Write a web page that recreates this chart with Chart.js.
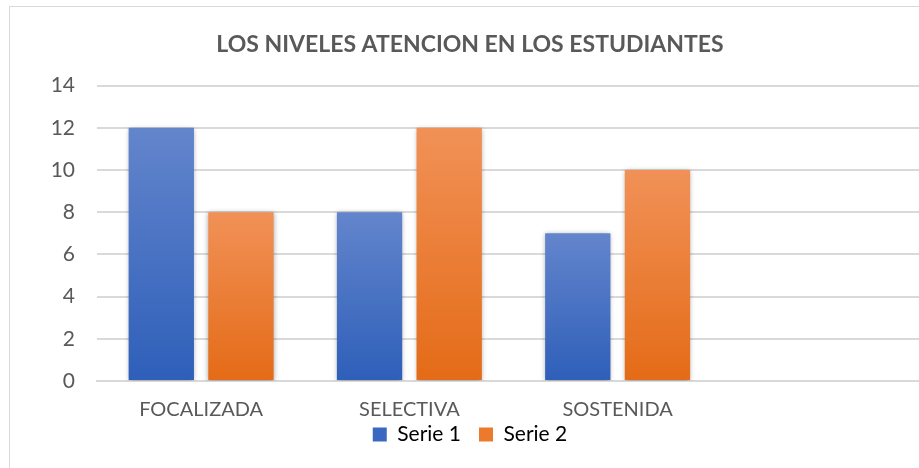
<!DOCTYPE html>
<html lang="es">
<head>
    <meta charset="UTF-8">
    <title>Los niveles atencion en los estudiantes</title>
    <script src="https://cdn.jsdelivr.net/npm/chart.js"></script>
    <style>
        html, body {
            margin: 0;
            padding: 0;
            overflow: hidden;
            background: #fff;
        }
        #chartBox {
            position: absolute;
            left: 9px;
            top: 6px;
            width: 920px;
            height: 470px;
            border: 1px solid #d9d9d9;
            background: #fff;
        }
    </style>
</head>
<body>
    <div id="chartBox">
        <canvas id="nivelesChart" width="920" height="463"></canvas>
    </div>

    <script>
        // datos del grafico
        const categorias = ['FOCALIZADA', 'SELECTIVA', 'SOSTENIDA', ''];
        const serie1 = [12, 8, 7, null];
        const serie2 = [8, 12, 10, null];
        const ticksY = [0, 2, 4, 6, 8, 10, 12, 14];

        const textColor = '#595959';
        const fontName = 'Lato, "Open Sans", sans-serif';

        // gradiente por barra, de claro arriba a oscuro abajo
        function barGradient(context, topColor, bottomColor) {
            const chart = context.chart;
            if (!chart.chartArea || context.parsed == null) return bottomColor;
            const yScale = chart.scales.y;
            const yTop = yScale.getPixelForValue(context.parsed.y);
            const yBase = yScale.getPixelForValue(0);
            if (!isFinite(yTop) || yTop === yBase) return bottomColor;
            const g = chart.ctx.createLinearGradient(0, yTop, 0, yBase);
            g.addColorStop(0, topColor);
            g.addColorStop(1, bottomColor);
            return g;
        }

        // sombra suave detras de las barras
        const barShadow = {
            id: 'barShadow',
            beforeDatasetsDraw(chart) {
                const ctx = chart.ctx;
                ctx.save();
                ctx.shadowColor = 'rgba(0, 0, 0, 0.35)';
                ctx.shadowBlur = 5;
                ctx.shadowOffsetX = 0;
                ctx.shadowOffsetY = 1;
            },
            afterDatasetsDraw(chart) {
                chart.ctx.restore();
            }
        };

        // sube un poco la leyenda, pegada a las etiquetas del eje x
        const legendNudge = {
            id: 'legendNudge',
            afterLayout(chart) {
                const lg = chart.legend;
                if (!lg) return;
                lg.top -= 15;
                lg.bottom -= 15;
            }
        };

        const ctx = document.getElementById('nivelesChart').getContext('2d');
        new Chart(ctx, {
            type: 'bar',
            data: {
                labels: categorias,
                datasets: [{
                    label: 'Serie 1',
                    data: serie1,
                    backgroundColor: c => barGradient(c, '#6385cc', '#2e5fb9'),
                    borderWidth: 0
                }, {
                    label: 'Serie 2',
                    data: serie2,
                    backgroundColor: c => barGradient(c, '#f19157', '#e46b17'),
                    borderWidth: 0
                }]
            },
            options: {
                responsive: false,
                animation: false,
                categoryPercentage: 0.765,
                barPercentage: 0.82,
                layout: {
                    padding: { left: 0, right: 0, top: 0, bottom: 0 }
                },
                plugins: {
                    title: {
                        display: true,
                        text: 'LOS NIVELES ATENCION EN LOS ESTUDIANTES',
                        color: textColor,
                        font: { family: fontName, size: 23, weight: 'bold' },
                        padding: { top: 24, bottom: 27 }
                    },
                    legend: {
                        position: 'bottom',
                        labels: {
                            color: textColor,
                            font: { family: fontName, size: 21 },
                            boxWidth: 14,
                            boxHeight: 14,
                            padding: 18,
                            generateLabels: chart => chart.data.datasets.map((ds, i) => ({
                                text: ds.label,
                                fillStyle: i === 0 ? '#3a68c0' : '#ec7a2c',
                                strokeStyle: 'rgba(0,0,0,0)',
                                lineWidth: 0,
                                datasetIndex: i
                            }))
                        }
                    },
                    tooltip: { enabled: false }
                },
                scales: {
                    x: {
                        afterFit: scale => { scale.height = 40; },
                        grid: { display: false, drawTicks: false },
                        border: { display: true, color: '#d9d9d9', width: 2 },
                        ticks: {
                            color: textColor,
                            font: { family: fontName, size: 20 },
                            padding: 17
                        }
                    },
                    y: {
                        min: 0,
                        max: 14,
                        afterBuildTicks: scale => {
                            scale.ticks = ticksY.map(v => ({ value: v }));
                        },
                        afterFit: scale => { scale.width = 87; },
                        border: { display: false },
                        grid: { color: '#d9d9d9', lineWidth: 2, drawTicks: false },
                        ticks: {
                            color: textColor,
                            font: { family: fontName, size: 21 },
                            padding: 22
                        }
                    }
                }
            },
            plugins: [barShadow, legendNudge]
        });
    </script>
</body>
</html>
